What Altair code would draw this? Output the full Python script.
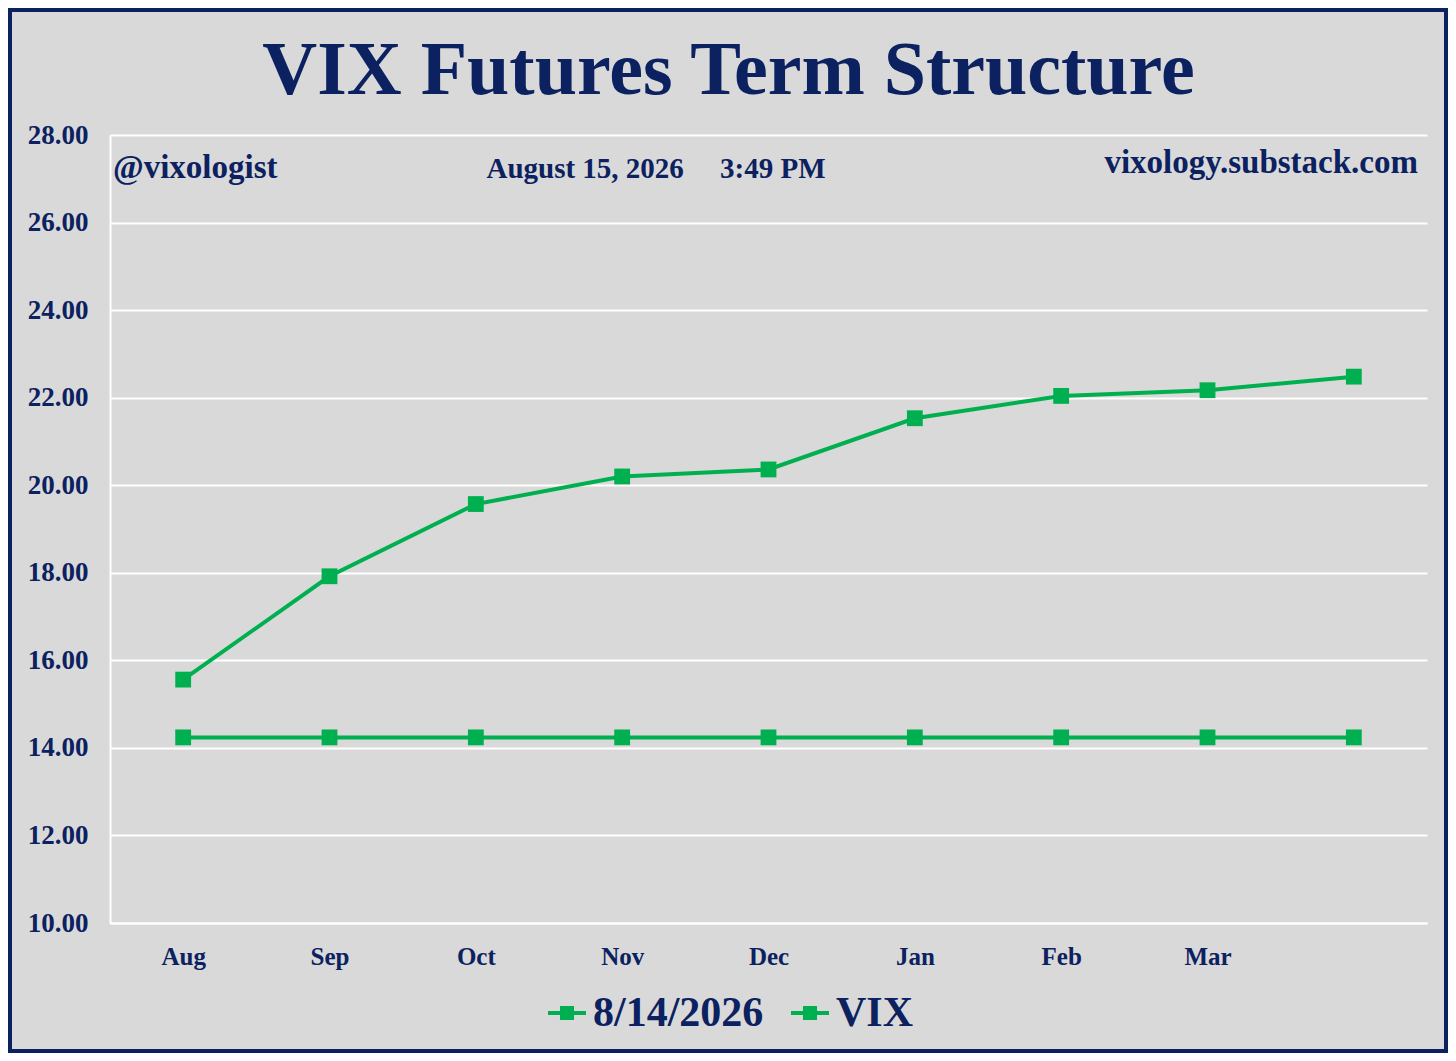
import altair as alt
import pandas as pd

months = ["Aug", "Sep", "Oct", "Nov", "Dec", "Jan", "Feb", "Mar", "Apr"]
futures_0814 = [15.56, 17.92, 19.57, 20.20, 20.36, 21.53, 22.04, 22.17, 22.48]
vix_spot = [14.24] * 9
series_names = ["8/14/2026", "VIX"]
y_ticks = [10, 12, 14, 16, 18, 20, 22, 24, 26, 28]

NAVY = "#0b2160"
GREEN = "#00b050"
BG = "#d9d9d9"
FONT = "Liberation Serif"

rows = []
for m, v in zip(months, futures_0814):
    rows.append({"month": m, "series": series_names[0], "value": v})
for m, v in zip(months, vix_spot):
    rows.append({"month": m, "series": series_names[1], "value": v})
df = pd.DataFrame(rows)

x_enc = alt.X(
    "month:O",
    sort=months,
    scale=alt.Scale(type="point", padding=0.5),
    axis=alt.Axis(
        title=None,
        labelAngle=0,
        ticks=False,
        grid=False,
        labelPadding=21,
        labelFontSize=25,
        labelFont=FONT,
        labelFontWeight="bold",
        labelColor=NAVY,
        domainColor="white",
        domainWidth=2,
        labelExpr="datum.label == 'Apr' ? '' : datum.label",
    ),
)
y_enc = alt.Y(
    "value:Q",
    scale=alt.Scale(domain=[10, 28], nice=False, zero=False),
    axis=alt.Axis(
        title=None,
        values=y_ticks,
        format=".2f",
        ticks=False,
        labelPadding=22,
        labelFontSize=27,
        labelFont=FONT,
        labelFontWeight="bold",
        labelColor=NAVY,
        gridColor="white",
        gridWidth=2,
        gridOpacity=1,
        domainColor="white",
        domainWidth=2,
    ),
)

base = alt.Chart(df)

lines = base.mark_line(strokeWidth=4, color=GREEN).encode(
    x=x_enc, y=y_enc, detail="series:N"
)

legend_path = (
    "M-1,-0.11L1,-0.11L1,0.11L-1,0.11Z"
    "M-0.37,-0.37L0.37,-0.37L0.37,0.37L-0.37,0.37Z"
)

points = base.mark_point(shape="square", filled=True, size=250, opacity=1).encode(
    x=x_enc,
    y=y_enc,
    color=alt.Color(
        "series:N",
        scale=alt.Scale(domain=series_names, range=[GREEN, GREEN]),
        legend=alt.Legend(
            title=None,
            orient="none",
            direction="horizontal",
            legendX=436,
            legendY=857,
            symbolType=legend_path,
            symbolSize=1444,
            symbolStrokeWidth=0,
            labelFontSize=42,
            labelFont=FONT,
            labelFontWeight="bold",
            labelColor=NAVY,
            labelOffset=5,
            labelLimit=500,
            columnPadding=25,
            symbolOpacity=1,
        ),
    ),
)

handle_txt = alt.Chart(alt.Data(values=[{"t": "@vixologist"}])).mark_text(
    font=FONT, fontSize=33, fontWeight="bold", color=NAVY, align="left", baseline="alphabetic"
).encode(text="t:N", x=alt.value(3), y=alt.value(43))

date_txt = alt.Chart(
    alt.Data(values=[{"t": "August 15, 2026\u00a0\u00a0\u00a0\u00a0\u00a03:49 PM"}])
).mark_text(
    font=FONT, fontSize=29, fontWeight="bold", color=NAVY, align="center", baseline="alphabetic"
).encode(text="t:N", x=alt.value(546), y=alt.value(43))

url_txt = alt.Chart(alt.Data(values=[{"t": "vixology.substack.com"}])).mark_text(
    font=FONT, fontSize=33, fontWeight="bold", color=NAVY, align="right", baseline="alphabetic"
).encode(text="t:N", x=alt.value(1308), y=alt.value(38))

border = alt.Chart(alt.Data(values=[{"b": 1}])).mark_rect(
    fillOpacity=0, stroke=NAVY, strokeWidth=4, clip=False
).encode(
    x=alt.value(-100), x2=alt.value(1336), y=alt.value(-125), y2=alt.value(916)
)

chart = (
    alt.layer(lines, points, handle_txt, date_txt, url_txt, border)
    .properties(
        width=1317,
        height=788,
        padding={"left": 102, "top": 127, "right": 21, "bottom": 130},
        autosize=alt.AutoSizeParams(type="none"),
        title=alt.TitleParams(
            "VIX Futures Term Structure",
            font=FONT,
            fontSize=76,
            fontWeight="bold",
            color=NAVY,
            anchor="middle",
            baseline="alphabetic",
            offset=-162,
            dx=-40,
        ),
    )
    .configure(background=BG)
    .configure_view(strokeWidth=0)
)

chart.save("out.html", embed_options={"renderer": "svg", "actions": False})
